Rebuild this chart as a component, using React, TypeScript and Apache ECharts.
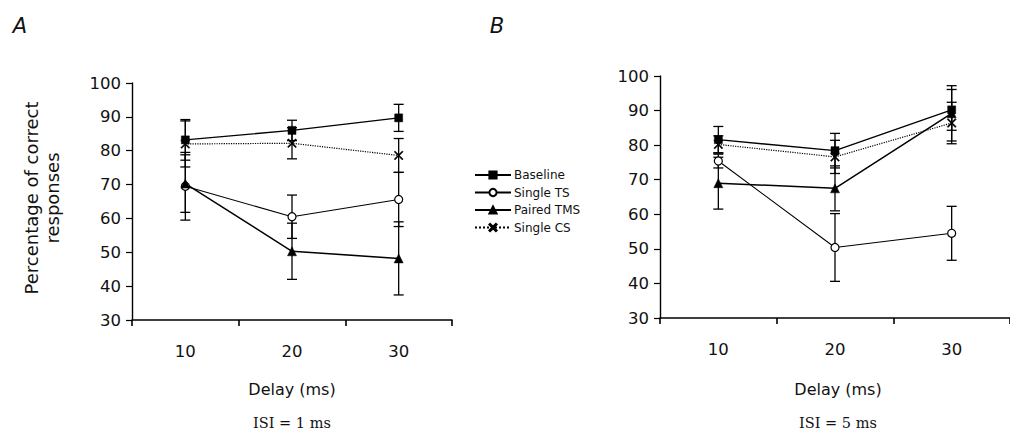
import React, { useEffect, useRef } from "react";
import * as echarts from "echarts";

const delays = ["10", "20", "30"];
const seriesNames = ["Baseline", "Single TS", "Paired TMS", "Single CS"];

// Panel A (ISI = 1 ms)
const aBaseline = [83.2, 86.0, 89.7];
const aBaselineErr = [6.0, 3.0, 4.0];
const aSingleTS = [69.5, 60.5, 65.6];
const aSingleTSErr = [10.0, 6.4, 8.0];
const aPairedTMS = [70.3, 50.3, 48.2];
const aPairedTMSErr = [8.5, 8.3, 10.8];
const aSingleCS = [82.0, 82.2, 78.6];
const aSingleCSErr = [6.8, 4.6, 5.0];

// Panel B (ISI = 5 ms)
const bBaseline = [81.6, 78.4, 90.2];
const bBaselineErr = [3.8, 5.0, 5.9];
const bSingleTS = [75.4, 50.4, 54.5];
const bSingleTSErr = [2.0, 9.8, 7.8];
const bPairedTMS = [69.0, 67.5, 89.2];
const bPairedTMSErr = [7.5, 6.5, 8.0];
const bSingleCS = [80.2, 76.6, 86.4];
const bSingleCSErr = [2.5, 4.8, 6.0];

const yTicks = [30, 40, 50, 60, 70, 80, 90, 100];

const xSymbol =
  "path://M1,0 L5,4 L9,0 L10,1 L6,5 L10,9 L9,10 L5,6 L1,10 L0,9 L4,5 L0,1 Z";

const SANS = "DejaVu Sans, Arial, sans-serif";
const SERIF = "DejaVu Serif, Times New Roman, serif";

const styles: Record<string, any> = {
  Baseline: { symbol: "rect", symbolSize: 8, color: "#000", line: { width: 1.4, type: "solid" } },
  "Single TS": { symbol: "circle", symbolSize: 8, color: "#fff", line: { width: 1.1, type: "solid" } },
  "Paired TMS": { symbol: "triangle", symbolSize: 9, color: "#000", line: { width: 1.5, type: "solid" } },
  "Single CS": { symbol: xSymbol, symbolSize: 9, color: "#000", line: { width: 1.2, type: "dotted" } },
};

function lineSeries(name: string, values: number[], gi: number) {
  const s = styles[name];
  return {
    type: "line",
    name,
    xAxisIndex: gi,
    yAxisIndex: gi,
    data: values,
    symbol: s.symbol,
    symbolSize: s.symbolSize,
    showSymbol: true,
    itemStyle: { color: s.color, borderColor: "#000", borderWidth: name === "Single TS" ? 1.2 : 0.5 },
    lineStyle: { color: "#000", width: s.line.width, type: s.line.type },
    z: 3,
  };
}

function errSeries(values: number[], errs: number[], gi: number) {
  return {
    type: "custom",
    xAxisIndex: gi,
    yAxisIndex: gi,
    data: values.map((v, i) => [i, v - errs[i], v + errs[i]]),
    encode: { x: 0, y: [1, 2] },
    z: 2,
    renderItem: (params: any, api: any) => {
      const x = api.value(0);
      const lo = api.coord([x, api.value(1)]);
      const hi = api.coord([x, api.value(2)]);
      const w = 5;
      const st = { stroke: "#000", lineWidth: 1.3 };
      return {
        type: "group",
        children: [
          { type: "line", shape: { x1: lo[0], y1: lo[1], x2: hi[0], y2: hi[1] }, style: st },
          { type: "line", shape: { x1: lo[0] - w, y1: lo[1], x2: lo[0] + w, y2: lo[1] }, style: st },
          { type: "line", shape: { x1: hi[0] - w, y1: hi[1], x2: hi[0] + w, y2: hi[1] }, style: st },
        ],
      };
    },
  };
}

const axisFont = { fontFamily: SANS, color: "#111" };

function xAxis(gi: number) {
  return {
    type: "category",
    gridIndex: gi,
    data: delays,
    boundaryGap: true,
    axisLine: { lineStyle: { color: "#000", width: 1.6 } },
    axisTick: { show: true, length: 6, alignWithLabel: false, lineStyle: { color: "#000", width: 1.6 } },
    axisLabel: { ...axisFont, fontSize: 16.5, margin: 23 },
    splitLine: { show: false },
  };
}

function yAxis(gi: number) {
  return {
    type: "value",
    gridIndex: gi,
    min: yTicks[0],
    max: yTicks[yTicks.length - 1],
    interval: 10,
    axisLine: { show: true, lineStyle: { color: "#000", width: 1.4 } },
    axisTick: { show: true, length: 6, lineStyle: { color: "#000", width: 1.2 } },
    axisLabel: { ...axisFont, fontSize: 16.5, margin: 11 },
    splitLine: { show: false },
  };
}

export default function App() {
  const ref = useRef<HTMLDivElement>(null);
  useEffect(() => {
    if (!ref.current) return;
    const chart = echarts.init(ref.current, undefined, { renderer: "svg" });
    const text = (t: string, x: number, y: number, extra: any = {}) => ({
      type: "text",
      x,
      y,
      style: {
        text: t,
        fill: "#111",
        fontFamily: SANS,
        fontSize: 16,
        align: "center",
        verticalAlign: "middle",
        ...extra,
      },
    });
    chart.setOption({
      animation: false,
      backgroundColor: "#fff",
      grid: [
        { left: 132, top: 83, width: 320, height: 237 },
        { left: 660, top: 76, width: 360, height: 242 },
      ],
      xAxis: [xAxis(0), xAxis(1)],
      yAxis: [yAxis(0), yAxis(1)],
      legend: {
        data: seriesNames,
        orient: "vertical",
        left: 469,
        top: 164,
        itemWidth: 36,
        itemHeight: 9,
        itemGap: 5.5,
        textStyle: { ...axisFont, fontSize: 12, padding: [0, 0, 0, -2] },
        selectedMode: false,
      },
      graphic: [
        text("A", 20, 26, { fontSize: 21, fontStyle: "italic" }),
        text("B", 497, 26, { fontSize: 21, fontStyle: "italic" }),
        {
          type: "text",
          x: 42,
          y: 198,
          rotation: Math.PI / 2,
          style: {
            text: "Percentage of correct\nresponses",
            fill: "#111",
            fontFamily: SANS,
            fontSize: 18,
            lineHeight: 21,
            align: "center",
            verticalAlign: "middle",
          },
        },
        text("Delay (ms)", 292, 389, { fontSize: 16 }),
        text("Delay (ms)", 838, 389, { fontSize: 16 }),
        text("ISI = 1 ms", 292, 423, { fontFamily: SERIF, fontSize: 14.5 }),
        text("ISI = 5 ms", 838, 423, { fontFamily: SERIF, fontSize: 14.5 }),
      ],
      series: [
        errSeries(aBaseline, aBaselineErr, 0),
        errSeries(aSingleTS, aSingleTSErr, 0),
        errSeries(aPairedTMS, aPairedTMSErr, 0),
        errSeries(aSingleCS, aSingleCSErr, 0),
        lineSeries("Baseline", aBaseline, 0),
        lineSeries("Single TS", aSingleTS, 0),
        lineSeries("Paired TMS", aPairedTMS, 0),
        lineSeries("Single CS", aSingleCS, 0),
        errSeries(bBaseline, bBaselineErr, 1),
        errSeries(bSingleTS, bSingleTSErr, 1),
        errSeries(bPairedTMS, bPairedTMSErr, 1),
        errSeries(bSingleCS, bSingleCSErr, 1),
        lineSeries("Baseline", bBaseline, 1),
        lineSeries("Single TS", bSingleTS, 1),
        lineSeries("Paired TMS", bPairedTMS, 1),
        lineSeries("Single CS", bSingleCS, 1),
      ],
    });
    return () => chart.dispose();
  }, []);
  return (
    <div
      ref={ref}
      style={{ position: "absolute", left: 0, top: 0, width: 1010, height: 435, background: "#fff" }}
    />
  );
}
